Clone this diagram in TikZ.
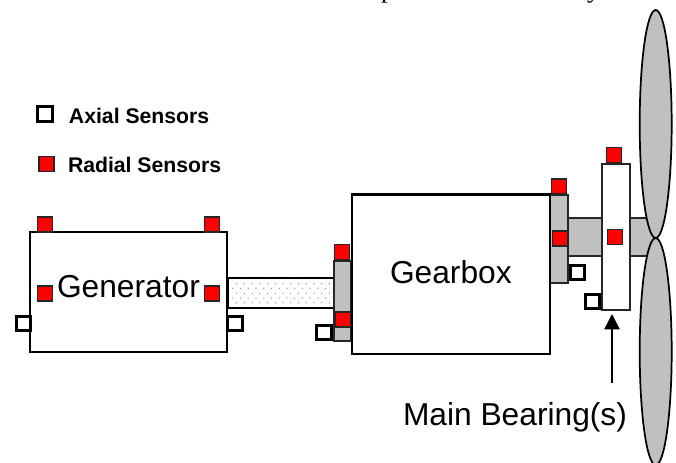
\documentclass[tikz,border=0pt]{standalone}
\usepackage{fontspec}
\setmainfont{Liberation Sans}
\newfontfamily\serifcut{Liberation Serif}
\usetikzlibrary{arrows.meta,patterns,shapes.geometric}
\definecolor{bladegray}{RGB}{192,192,192}
\definecolor{sensorred}{RGB}{255,0,0}
\pgfdeclarepatternformonly{shaftdots}{\pgfqpoint{-1pt}{-1pt}}{\pgfqpoint{5.8pt}{7.2pt}}{\pgfqpoint{5.8pt}{7.2pt}}{%
  \pgfpathcircle{\pgfqpoint{0.6pt}{0.6pt}}{0.5pt}%
  \pgfpathcircle{\pgfqpoint{3.5pt}{4.2pt}}{0.5pt}%
  \pgfusepath{fill}}
\tikzset{
  x=0.75pt,y=-0.75pt,
  rawbox/.style={rectangle,inner sep=0pt,outer sep=0pt,anchor=center},
  redsensor/.style={rawbox,draw=black!85,line width=1.3pt,fill=sensorred,minimum width=11.2pt,minimum height=11.2pt},
  axialsensor/.style={rawbox,draw=black,line width=2.1pt,fill=white,minimum width=11pt,minimum height=11pt},
  mainbox/.style={rawbox,draw=black,line width=1.6pt,fill=white},
  flange/.style={rawbox,draw=black!85,line width=1.1pt,fill=bladegray},
  blade/.style={ellipse,inner sep=0pt,outer sep=0pt,draw=black,line width=1.3pt,fill=bladegray,minimum width=24pt,minimum height=171pt},
  biglabel/.style={inner sep=0pt,outer sep=0pt,anchor=base west,font=\fontsize{23.8}{24}\selectfont},
  legendlabel/.style={inner sep=0pt,outer sep=0pt,anchor=base west,font=\fontsize{15.9}{16}\selectfont\bfseries},
  cuttext/.style={inner sep=0pt,outer sep=0pt,anchor=base west,font=\serifcut\fontsize{20}{20}\selectfont},
}
\begin{document}
\begin{tikzpicture}
\useasboundingbox (0,0) rectangle (676,462);
\begin{scope}
  \clip (0,0) rectangle (676,462);
  % clipped-off line of text at the top edge
  \node[cuttext] (topp) at (381,-2.4) {p};
  \node[cuttext] (topy) at (587,-2.4) {y};
  % shaft main
  \node[flange,minimum width=65.25pt,minimum height=28.5pt,anchor=north west] (mainshaft) at (568,218) {};
  % blades
  \node[blade] (bladetop) at (655.7,124) {};
  \node[blade,minimum height=170.25pt] (bladebottom) at (655.7,351.5) {};
\end{scope}
% generator side
\node[rawbox,draw=black,line width=1pt,pattern=shaftdots,pattern color=black!45,minimum width=79pt,minimum height=22.5pt,anchor=north west] (coupling) at (228,278) {};
\node[mainbox,minimum width=148pt,minimum height=90pt,anchor=north west] (generator) at (30,232) {};
\node[biglabel] (gentext) at (57,297) {Generator};
% gearbox
\node[flange,minimum width=12.75pt,minimum height=60pt,anchor=north west] (flangeL) at (334,261) {};
\node[flange,minimum width=13.5pt,minimum height=66pt,anchor=north west] (flangeR) at (550,195) {};
\node[mainbox,minimum width=148pt,minimum height=119.5pt,anchor=north west] (gearbox) at (352.3,194.5) {};
\node[biglabel] (geartext) at (390,283) {Gearbox};
% bearing
\node[rawbox,draw=black!85,line width=1.1pt,fill=white,minimum width=21pt,minimum height=109.5pt,anchor=north west] (bearing) at (602,164) {};
% sensors
\node[redsensor] (r1) at (45,224.5) {};
\node[redsensor] (r2) at (212,224.5) {};
\node[redsensor] (r3) at (45,293.5) {};
\node[redsensor] (r4) at (212,293.5) {};
\node[redsensor] (r5) at (342,252) {};
\node[redsensor] (r6) at (343,319.5) {};
\node[redsensor] (r7) at (559,186.5) {};
\node[redsensor] (r8) at (560,238.5) {};
\node[redsensor] (r9) at (614,155) {};
\node[redsensor] (r10) at (615,237) {};
\node[axialsensor] (a1) at (23.5,323.5) {};
\node[axialsensor] (a2) at (235,323.5) {};
\node[axialsensor] (a3) at (324,332.5) {};
\node[axialsensor] (a4) at (577.5,272.5) {};
\node[axialsensor] (a5) at (592.5,301.5) {};
% legend
\node[axialsensor] (legA) at (45,114) {};
\node[redsensor] (legR) at (46.5,164) {};
\node[legendlabel] (legAt) at (69,123) {Axial Sensors};
\node[legendlabel] (legRt) at (68,172) {Radial Sensors};
% main bearing label and arrow
\node[biglabel] (mbtext) at (403,425) {Main Bearing(s)};
\coordinate (arrowtail) at (612,383);
\coordinate (arrowtip) at (612,314);
\draw[line width=1.1pt,-{Triangle[length=11.5pt,width=11.5pt]}] (arrowtail) -- (arrowtip);
\end{tikzpicture}
\end{document}
